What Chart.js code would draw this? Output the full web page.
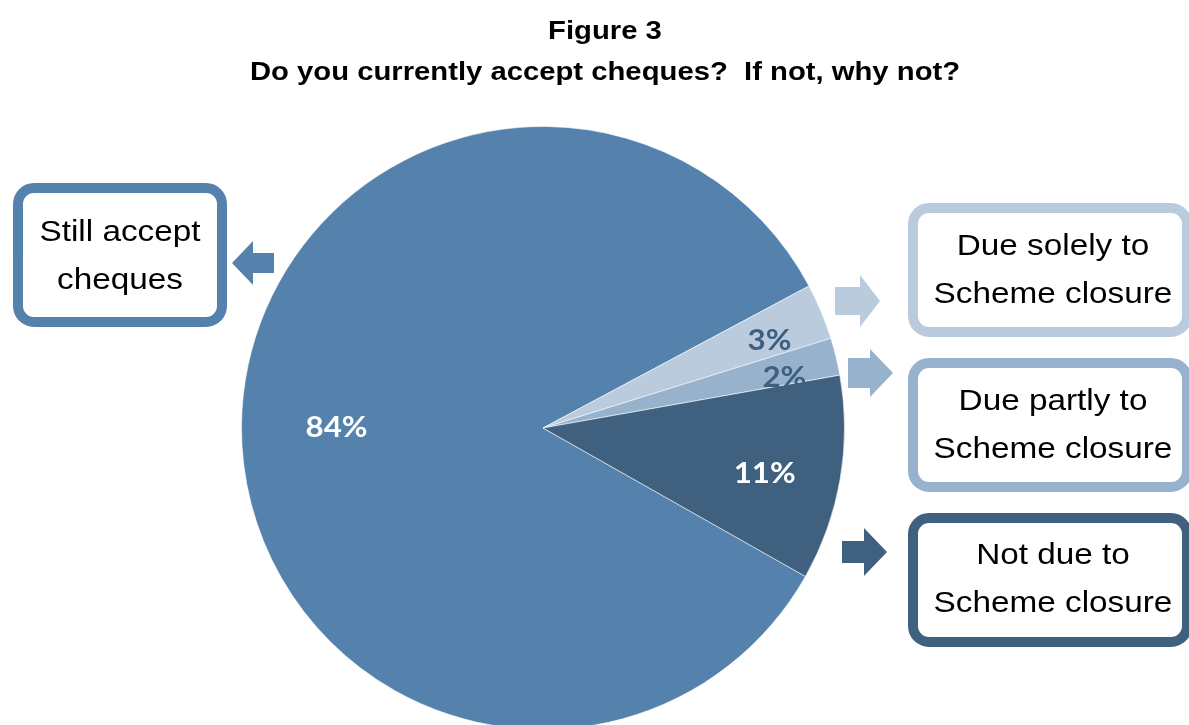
<!DOCTYPE html>
<html>
<head>
<meta charset="utf-8">
<script src="https://cdn.jsdelivr.net/npm/chart.js@4/dist/chart.umd.min.js"></script>
<style>
  html, body { margin: 0; padding: 0; background: #fff; overflow: hidden; }
  #wrap { width: 1189px; height: 740px; }
</style>
</head>
<body>
<div id="wrap"><canvas id="cheques_pie" width="1189" height="740"></canvas></div>
<script>
// survey answers, in percent
const answers = ['Still accept cheques', 'Due solely to Scheme closure', 'Due partly to Scheme closure', 'Not due to Scheme closure'];
const shares = [84, 3, 2, 11];
const sliceColours = ['#5582ac', '#bacbdd', '#97b2cd', '#3f617f'];
const pctColours = ['#ffffff', '#3f5f7e', '#3f5f7e', '#ffffff'];
const pctRadius = [0.685, 0.806, 0.818, 0.75];
const pctTurn = [-0.4, 1.5, 1.8, 1.7];   // degrees, nudges the labels along the arc

const titleLines = ['Figure 3', 'Do you currently accept cheques?  If not, why not?'];

// call-out boxes, one per answer
const boxes = [
    { lines: ['Still accept', 'cheques'], x: 18, y: 188, w: 204, h: 134, tx: 120, ty: [233, 281],
      arrow: { tip: 232, base: 253, end: 274, cy: 263, bh: 10, hh: 22 } },
    { lines: ['Due solely to', 'Scheme closure'], x: 913, y: 208, w: 274, h: 124, tx: 1053, ty: [247, 295],
      arrow: { tip: 880, base: 860, end: 835, cy: 301, bh: 14, hh: 26 } },
    { lines: ['Due partly to', 'Scheme closure'], x: 913, y: 363, w: 274, h: 124, tx: 1053, ty: [402, 450],
      arrow: { tip: 893, base: 870, end: 848, cy: 373, bh: 15, hh: 24 } },
    { lines: ['Not due to', 'Scheme closure'], x: 913, y: 518, w: 274, h: 124, tx: 1053, ty: [556, 604],
      arrow: { tip: 887, base: 864, end: 842, cy: 552, bh: 11, hh: 24 } }
];

// text in this figure is set a little wide
function wideText(ctx, text, x, y, sx) {
    ctx.save();
    ctx.translate(x, y);
    ctx.scale(sx, 1);
    ctx.fillText(text, 0, 0);
    ctx.restore();
}

function drawArrow(ctx, a, colour) {
    ctx.fillStyle = colour;
    ctx.beginPath();
    ctx.moveTo(a.end, a.cy - a.bh);
    ctx.lineTo(a.base, a.cy - a.bh);
    ctx.lineTo(a.base, a.cy - a.hh);
    ctx.lineTo(a.tip, a.cy);
    ctx.lineTo(a.base, a.cy + a.hh);
    ctx.lineTo(a.base, a.cy + a.bh);
    ctx.lineTo(a.end, a.cy + a.bh);
    ctx.closePath();
    ctx.fill();
}

const figureExtras = {
    id: 'figureExtras',
    afterDraw(chart) {
        const ctx = chart.ctx;
        ctx.save();

        // title
        ctx.fillStyle = '#000';
        ctx.textAlign = 'center';
        ctx.textBaseline = 'middle';
        ctx.font = 'bold 26px "Liberation Sans", Arial, sans-serif';
        wideText(ctx, titleLines[0], 605, 32, 1.125);
        wideText(ctx, titleLines[1], 605, 73, 1.125);

        // percentage labels on the slices
        const meta = chart.getDatasetMeta(0);
        const pctSize = 28;
        ctx.font = 'bold ' + pctSize + 'px Lato, "Open Sans", sans-serif';
        ctx.textBaseline = 'alphabetic';
        meta.data.forEach((arc, i) => {
            const mid = (arc.startAngle + arc.endAngle) / 2 + pctTurn[i] * Math.PI / 180;
            const r = arc.outerRadius * pctRadius[i];
            ctx.fillStyle = pctColours[i];
            wideText(ctx, shares[i] + '%', arc.x + Math.cos(mid) * r,
                     arc.y + Math.sin(mid) * r + pctSize * 0.36, 1.12);
        });

        // call-out boxes and arrows
        ctx.textBaseline = 'middle';
        boxes.forEach((b, i) => {
            ctx.strokeStyle = sliceColours[i];
            ctx.lineWidth = 10;
            ctx.beginPath();
            ctx.roundRect(b.x, b.y, b.w, b.h, 16);
            ctx.fillStyle = '#fff';
            ctx.fill();
            ctx.stroke();
            drawArrow(ctx, b.arrow, sliceColours[i]);
            ctx.fillStyle = '#000';
            ctx.font = '30px "Liberation Sans", Arial, sans-serif';
            b.lines.forEach((line, j) => wideText(ctx, line, b.tx, b.ty[j], 1.11));
        });

        ctx.restore();
    }
};

new Chart(document.getElementById('cheques_pie'), {
    type: 'pie',
    data: {
        labels: answers,
        datasets: [{
            data: shares,
            backgroundColor: sliceColours,
            borderColor: 'rgba(255, 255, 255, 0.55)',
            borderWidth: 1
        }]
    },
    options: {
        responsive: false,
        animation: false,
        rotation: 119.5,
        layout: {
            padding: { left: 241, right: 344, top: 126, bottom: 10 }
        },
        plugins: {
            legend: { display: false },
            title: { display: false },
            tooltip: { enabled: false }
        }
    },
    plugins: [figureExtras]
});
</script>
</body>
</html>
